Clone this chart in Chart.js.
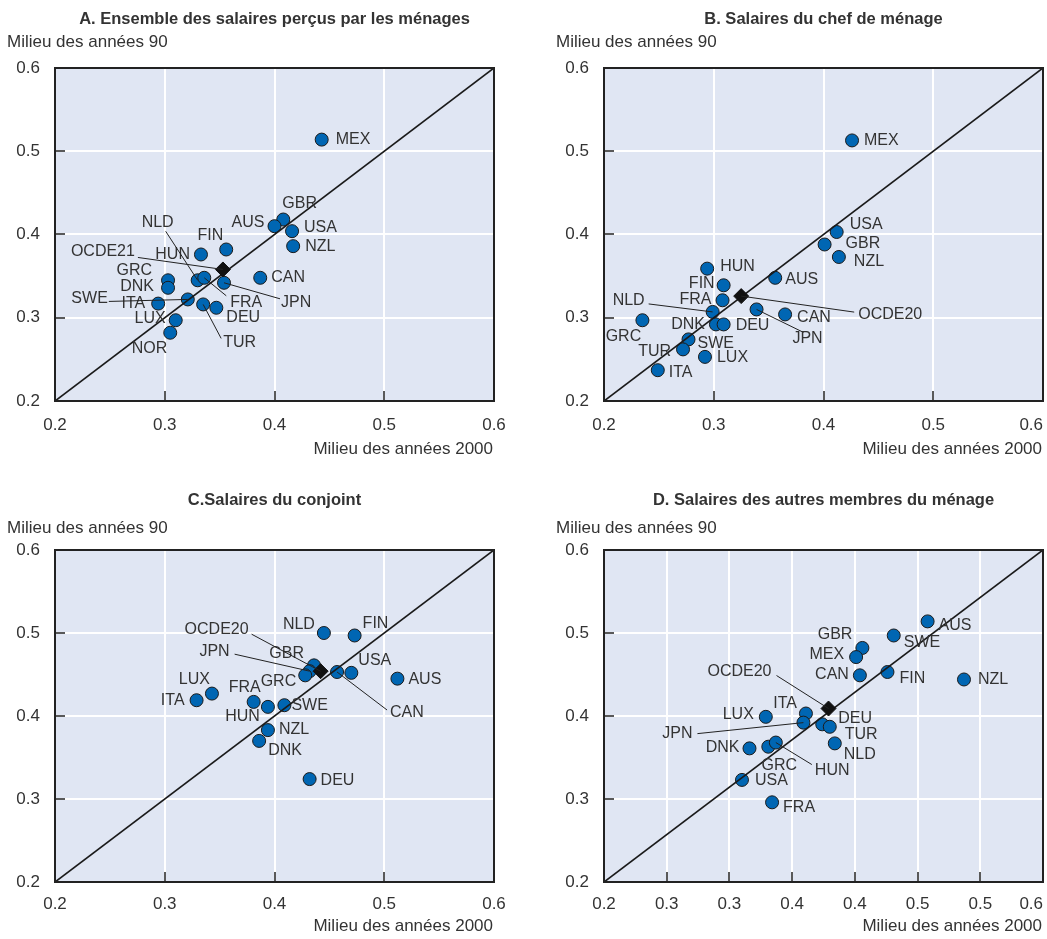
<!DOCTYPE html>
<html lang="fr">
<head>
<meta charset="utf-8">
<title>Salaires : milieu des années 90 / milieu des années 2000</title>
<script src="https://cdn.jsdelivr.net/npm/chart.js@4.4.1/dist/chart.umd.min.js"></script>
<style>
  html, body { margin: 0; padding: 0; background: #fff; }
  body { width: 1047px; height: 939px; position: relative; overflow: hidden; }
  canvas { position: absolute; }
</style>
</head>
<body>
<canvas id="chartA" width="523" height="470" style="left:0;top:0"></canvas>
<canvas id="chartB" width="523" height="470" style="left:549px;top:0"></canvas>
<canvas id="chartC" width="523" height="457" style="left:0;top:482px"></canvas>
<canvas id="chartD" width="523" height="457" style="left:549px;top:482px"></canvas>
<script>
// A. Ensemble des salaires perçus par les ménages
const countriesA = ["MEX", "GBR", "AUS", "USA", "NZL", "FIN", "HUN", "NLD", "FRA", "GRC", "DNK", "JPN", "CAN", "ITA", "SWE", "TUR", "DEU", "LUX", "NOR"];
const x2000A = [0.443, 0.408, 0.400, 0.416, 0.417, 0.356, 0.333, 0.330, 0.336, 0.303, 0.303, 0.354, 0.387, 0.294, 0.321, 0.335, 0.347, 0.310, 0.305];
const y90A   = [0.514, 0.418, 0.410, 0.404, 0.386, 0.382, 0.376, 0.345, 0.348, 0.345, 0.336, 0.342, 0.348, 0.317, 0.322, 0.316, 0.312, 0.297, 0.282];
const oecdA = ["OCDE21", 0.353, 0.358];

// B. Salaires du chef de ménage
const countriesB = ["MEX", "USA", "GBR", "NZL", "HUN", "AUS", "FIN", "FRA", "NLD", "JPN", "CAN", "GRC", "DNK", "DEU", "SWE", "TUR", "LUX", "ITA"];
const x2000B = [0.426, 0.412, 0.401, 0.414, 0.294, 0.356, 0.309, 0.308, 0.299, 0.339, 0.365, 0.235, 0.302, 0.309, 0.277, 0.272, 0.292, 0.249];
const y90B   = [0.513, 0.403, 0.388, 0.373, 0.359, 0.348, 0.339, 0.321, 0.307, 0.310, 0.304, 0.297, 0.292, 0.292, 0.274, 0.262, 0.253, 0.237];
const oecdB = ["OCDE20", 0.325, 0.326];

// C. Salaires du conjoint
const countriesC = ["NLD", "FIN", "GBR", "JPN", "GRC", "CAN", "USA", "AUS", "LUX", "ITA", "FRA", "HUN", "SWE", "NZL", "DNK", "DEU"];
const x2000C = [0.445, 0.473, 0.436, 0.432, 0.428, 0.457, 0.470, 0.512, 0.343, 0.329, 0.381, 0.394, 0.409, 0.394, 0.386, 0.432];
const y90C   = [0.500, 0.497, 0.461, 0.454, 0.449, 0.453, 0.452, 0.445, 0.427, 0.419, 0.417, 0.411, 0.413, 0.383, 0.370, 0.324];
const oecdC = ["OCDE20", 0.442, 0.454];

// D. Salaires des autres membres du ménage
const countriesD = ["AUS", "SWE", "GBR", "MEX", "CAN", "FIN", "NZL", "ITA", "LUX", "JPN", "DEU", "TUR", "NLD", "DNK", "GRC", "HUN", "USA", "FRA"];
const x2000D = [0.458, 0.431, 0.406, 0.401, 0.404, 0.426, 0.487, 0.361, 0.329, 0.359, 0.374, 0.380, 0.384, 0.316, 0.331, 0.337, 0.310, 0.334];
const y90D   = [0.514, 0.497, 0.482, 0.471, 0.449, 0.453, 0.444, 0.403, 0.399, 0.392, 0.390, 0.387, 0.367, 0.361, 0.363, 0.368, 0.323, 0.296];
const oecdD = ["OCDE20", 0.379, 0.409];

// axis ticks
const yTicks = [0.2, 0.3, 0.4, 0.5, 0.6];
const xTicks = [0.2, 0.3, 0.4, 0.5, 0.6];
const xTicksD = [0.2, 0.25, 0.3, 0.35, 0.4, 0.45, 0.5, 0.55];
const xTickLabelsD = ["0.2", "0.3", "0.3", "0.4", "0.4", "0.5", "0.5", "0.6"];

// label placement: [dx, dy, align, leader end dx, leader end dy] in px from the marker
const placeA = {
  MEX: [14, 0, "left"], GBR: [-1, -16, "left"], AUS: [-10, -4, "right"], USA: [12, -4, "left"],
  NZL: [12, 0, "left"], FIN: [-3, -14, "right"], HUN: [-11, 0, "right"], NLD: [-40, -58, "center", -32, -49],
  GRC: [-16, -10, "right"], DNK: [-14, -1, "right"], FRA: [26, 25, "left", 22, 18], JPN: [57, 20, "left", 56, 16],
  CAN: [11, 0, "left"], ITA: [-13, 0, "right"], SWE: [-80, -1, "right", -79, 2], TUR: [20, 38, "left", 18, 34],
  DEU: [10, 10, "left"], LUX: [-10, -2, "right"], NOR: [-3, 16, "right"], OCDE21: [-88, -18, "right", -85, -12]
};
const placeB = {
  MEX: [12, 0, "left"], USA: [13, -7, "left"], GBR: [21, -1, "left"], NZL: [15, 5, "left"], HUN: [13, -2, "left"],
  AUS: [10, 2, "left"], FIN: [-9, -2, "right"], FRA: [-11, -1, "right"], OCDE20: [117, 18, "left", 113, 16],
  NLD: [-68, -11, "right", -64, -8], JPN: [51, 29, "center", 47, 23], CAN: [12, 3, "left"], GRC: [-19, 16, "center"],
  DNK: [-11, 0, "right"], DEU: [12, 1, "left"], SWE: [9, 4, "left"], TUR: [-12, 2, "right"], LUX: [12, 1, "left"],
  ITA: [11, 2, "left"]
};
const placeC = {
  NLD: [-9, -8, "right"], FIN: [8, -12, "left"], GBR: [-10, -12, "right"], JPN: [-80, -20, "right", -75, -17],
  GRC: [-9, 6, "right"], CAN: [53, 41, "left", 50, 38], USA: [7, -12, "left"], AUS: [11, 1, "left"],
  LUX: [-2, -14, "right"], ITA: [-12, 0, "right"], FRA: [-9, -14, "center"], HUN: [-8, 10, "right"],
  SWE: [7, 0, "left"], NZL: [11, -1, "left"], DNK: [9, 10, "left"], DEU: [11, 2, "left"],
  OCDE20: [-72, -42, "right", -69, -37]
};
const placeD = {
  AUS: [11, 4, "left"], SWE: [10, 7, "left"], GBR: [-10, -13, "right"], MEX: [-12, -2, "right"], CAN: [-11, -1, "right"],
  FIN: [12, 7, "left"], NZL: [14, 0, "left"], ITA: [-9, -10, "right"], LUX: [-12, -2, "right"],
  JPN: [-111, 11, "right", -106, 11], DEU: [16, -6, "left"], TUR: [15, 8, "left"], NLD: [9, 11, "left"],
  DNK: [-10, -1, "right"], GRC: [11, 19, "center"], HUN: [39, 28, "left", 36, 22], USA: [13, 1, "left"],
  FRA: [11, 5, "left"], OCDE20: [-57, -37, "right", -52, -33]
};

const FONT = "'Liberation Sans', Arial, Helvetica, sans-serif";
const INK = "#333333";
const BG = "#e0e6f3";
const BLUE = "#0066b3";

const panels = [
  { id: "chartA", title: "A. Ensemble des salaires perçus par les ménages", names: countriesA, xs: x2000A, ys: y90A, oecd: oecdA, place: placeA,
    xTicks: xTicks, xLabels: null, xMax: 0.6, padLast: false, xh: 69, tickPad: 14, xTitleDy: 48, yTitleY: 42, titleY: 19 },
  { id: "chartB", title: "B. Salaires du chef de ménage", names: countriesB, xs: x2000B, ys: y90B, oecd: oecdB, place: placeB,
    xTicks: xTicks, xLabels: null, xMax: 0.6, padLast: true, xh: 69, tickPad: 14, xTitleDy: 48, yTitleY: 42, titleY: 19 },
  { id: "chartC", title: "C.Salaires du conjoint", names: countriesC, xs: x2000C, ys: y90C, oecd: oecdC, place: placeC,
    xTicks: xTicks, xLabels: null, xMax: 0.6, padLast: false, xh: 57, tickPad: 12, xTitleDy: 44, yTitleY: 46, titleY: 18 },
  { id: "chartD", title: "D. Salaires des autres membres du ménage", names: countriesD, xs: x2000D, ys: y90D, oecd: oecdD, place: placeD,
    xTicks: xTicksD, xLabels: xTickLabelsD, xMax: 0.55, padLast: true, xh: 57, tickPad: 12, xTitleDy: 44, yTitleY: 46, titleY: 18 }
];

function drawLabel(ctx, px, py, name, pl) {
  if (!pl) return;
  const [dx, dy, align, lx, ly] = pl;
  if (lx !== undefined) {
    ctx.beginPath();
    ctx.moveTo(px, py);
    ctx.lineTo(px + lx, py + ly);
    ctx.stroke();
  }
  ctx.textAlign = align;
  ctx.fillText(name, px + dx, py + dy);
}

const decor = {
  id: "decor",
  beforeDraw(chart) {
    const { ctx, chartArea: a } = chart;
    ctx.save();
    ctx.fillStyle = BG;
    ctx.fillRect(a.left, a.top, a.right - a.left, a.bottom - a.top);
    ctx.restore();
  },
  beforeDatasetsDraw(chart) {
    // short tick marks pointing into the plot
    const { ctx, chartArea: a, scales: { x, y } } = chart;
    ctx.save();
    ctx.strokeStyle = "#222";
    ctx.lineWidth = 1.5;
    x.ticks.forEach(t => {
      if (t.value <= x.min + 1e-9 || t.value >= x.max - 1e-9) return;
      const px = Math.round(x.getPixelForValue(t.value));
      ctx.beginPath(); ctx.moveTo(px, a.bottom); ctx.lineTo(px, a.bottom - 10); ctx.stroke();
    });
    y.ticks.forEach(t => {
      if (t.value <= y.min + 1e-9 || t.value >= y.max - 1e-9) return;
      const py = Math.round(y.getPixelForValue(t.value));
      ctx.beginPath(); ctx.moveTo(a.left, py); ctx.lineTo(a.left + 10, py); ctx.stroke();
    });
    ctx.restore();
  },
  afterDraw(chart, args, p) {
    const { ctx, chartArea: a } = chart;
    ctx.save();
    // frame
    ctx.strokeStyle = "#222";
    ctx.lineWidth = 2;
    ctx.strokeRect(a.left, a.top, a.right - a.left, a.bottom - a.top);

    // titles
    ctx.fillStyle = INK;
    ctx.textBaseline = "middle";
    ctx.font = "bold 16.5px " + FONT;
    ctx.textAlign = "center";
    ctx.fillText(p.title, (a.left + a.right) / 2, p.titleY);
    ctx.font = "17px " + FONT;
    ctx.textAlign = "left";
    ctx.fillText("Milieu des années 90", a.left - 48, p.yTitleY);
    ctx.textAlign = "right";
    ctx.fillText("Milieu des années 2000", a.right - 1, a.bottom + p.xTitleDy);

    // point labels and leader lines
    ctx.font = "16px " + FONT;
    ctx.strokeStyle = "#222";
    ctx.lineWidth = 1;
    const pts = chart.getDatasetMeta(1).data;
    p.names.forEach((n, i) => drawLabel(ctx, pts[i].x, pts[i].y, n, p.place[n]));
    const d = chart.getDatasetMeta(2).data[0];
    drawLabel(ctx, d.x, d.y, p.oecd[0], p.place[p.oecd[0]]);
    ctx.restore();
  }
};

panels.forEach(p => {
  new Chart(document.getElementById(p.id), {
    type: "scatter",
    data: {
      datasets: [
        {
          data: [{ x: 0.2, y: 0.2 }, { x: p.xMax, y: 0.6 }],
          showLine: true, borderColor: "#1a1a1a", borderWidth: 1.7, pointRadius: 0, order: 1
        },
        {
          data: p.names.map((n, i) => ({ x: p.xs[i], y: p.ys[i] })),
          pointRadius: 6.5, backgroundColor: BLUE, borderColor: "#1b1b1b", borderWidth: 1, order: 2
        },
        {
          data: [{ x: p.oecd[1], y: p.oecd[2] }],
          pointStyle: "rectRot", pointRadius: 7.5, backgroundColor: "#111", borderColor: "#111", order: 0
        }
      ]
    },
    options: {
      responsive: false,
      animation: false,
      devicePixelRatio: 1,
      layout: { padding: { left: 15, right: 29, top: 68, bottom: 0 } },
      plugins: { legend: { display: false }, tooltip: { enabled: false }, decor: p },
      scales: {
        x: {
          type: "linear", min: 0.2, max: p.xMax,
          afterFit(s) { s.height = p.xh; s.paddingLeft = 0; s.paddingRight = 0; },
          afterBuildTicks(s) { s.ticks = p.xTicks.map(v => ({ value: v })); },
          grid: { color: "#ffffff", lineWidth: 2, drawTicks: false },
          border: { display: false },
          ticks: {
            autoSkip: false, maxRotation: 0, padding: p.tickPad, color: INK,
            font: { family: FONT, size: 17 },
            callback: (v, i, ticks) => {
              let s = p.xLabels ? p.xLabels[i] : v.toFixed(1);
              // the right-hand panels keep their last label inside the page
              if (p.padLast && i === ticks.length - 1) s += "     ";
              return s;
            }
          }
        },
        y: {
          type: "linear", min: 0.2, max: 0.6,
          afterFit(s) { s.width = 40; },
          afterBuildTicks(s) { s.ticks = yTicks.map(v => ({ value: v })); },
          grid: { color: "#ffffff", lineWidth: 2, drawTicks: false },
          border: { display: false },
          ticks: {
            padding: 15, color: INK,
            font: { family: FONT, size: 17 },
            callback: v => v.toFixed(1)
          }
        }
      }
    },
    plugins: [decor]
  });
});
</script>
</body>
</html>
